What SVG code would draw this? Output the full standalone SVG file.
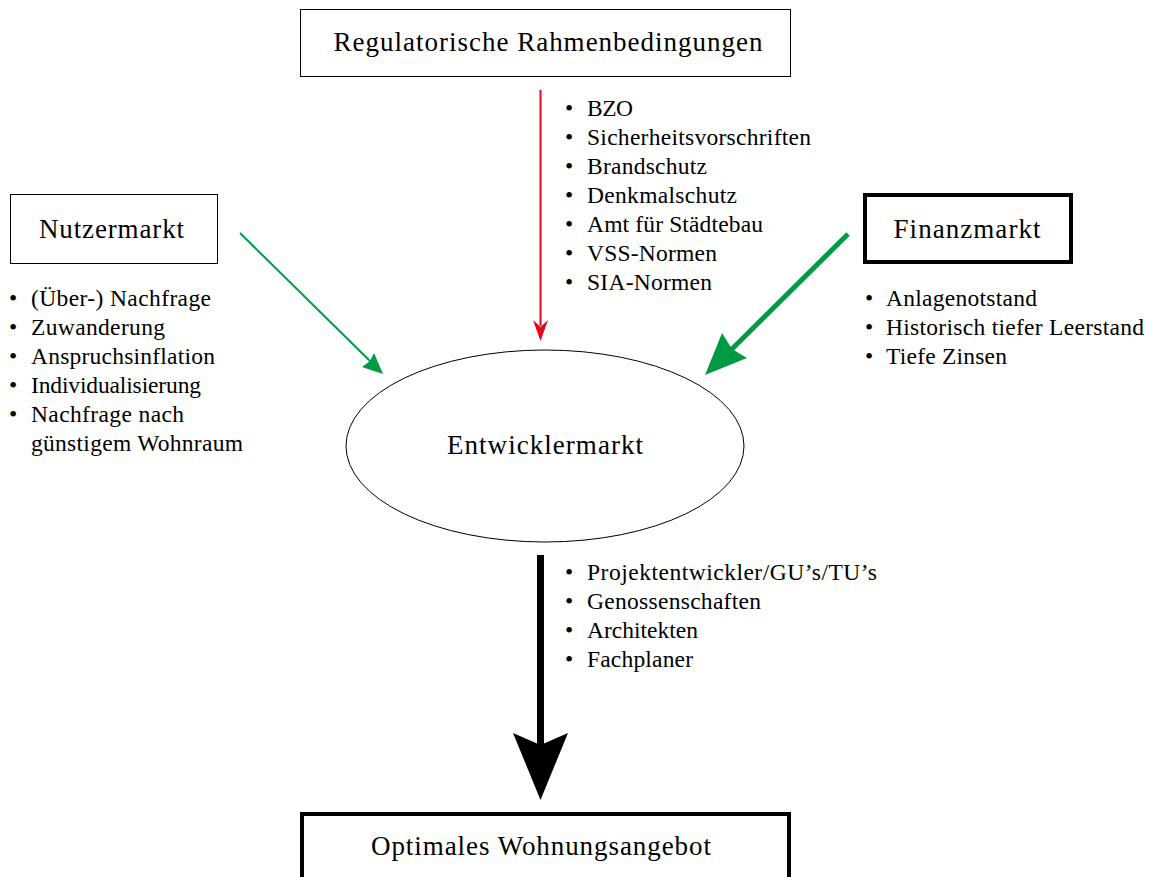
<svg xmlns="http://www.w3.org/2000/svg" width="1151" height="877" viewBox="0 0 1151 877">
  <style>
    text { font-family: "Liberation Serif", "Times New Roman", serif; fill: #000; }
    .title { font-size: 27px; text-anchor: middle; }
    .item { font-size: 23.5px; }
    .box { fill: #fff; stroke: #000; stroke-width: 1; }
    .box-bold { fill: #fff; stroke: #000; stroke-width: 4; }
  </style>

  <!-- connectors -->
  <g id="connectors">
    <!-- regulation -> developers (red) -->
    <line x1="540.5" y1="90" x2="540.5" y2="326" stroke="#e3061b" stroke-width="2"/>
    <polygon points="533,320 540.5,341 548,320 540.5,327" fill="#e3061b"/>
    <!-- user market -> developers (thin green) -->
    <line x1="240" y1="233" x2="372" y2="363" stroke="#009a44" stroke-width="2"/>
    <polygon points="383,374 362,367 370,361 374,353" fill="#009a44"/>
    <!-- finance market -> developers (bold green) -->
    <line x1="848" y1="234" x2="731" y2="350" stroke="#009a44" stroke-width="5"/>
    <polygon points="705,375 722,333 732,349 747,358" fill="#009a44"/>
    <!-- developers -> housing supply (black) -->
    <line x1="540.5" y1="555" x2="540.5" y2="745" stroke="#000" stroke-width="7"/>
    <polygon points="513,733 540.5,745 568,733 540.5,800" fill="#000"/>
  </g>

  <g id="node-regulatorisch">
    <rect class="box" x="300.5" y="9.5" width="490" height="67"/>
    <text class="title" x="548" y="51" textLength="429" lengthAdjust="spacing">Regulatorische Rahmenbedingungen</text>
  </g>

  <g id="node-nutzermarkt">
    <rect class="box" x="10.5" y="194.5" width="207" height="69"/>
    <text class="title" x="111.5" y="238" textLength="145" lengthAdjust="spacing">Nutzermarkt</text>
  </g>

  <g id="node-finanzmarkt">
    <rect class="box-bold" x="865" y="195" width="206" height="67"/>
    <text class="title" x="967" y="238" textLength="147" lengthAdjust="spacing">Finanzmarkt</text>
  </g>

  <g id="node-entwicklermarkt">
    <ellipse cx="545" cy="446" rx="199" ry="96" fill="#fff" stroke="#000" stroke-width="1"/>
    <text class="title" x="545" y="454" textLength="196" lengthAdjust="spacing">Entwicklermarkt</text>
  </g>

  <g id="node-wohnungsangebot">
    <rect class="box-bold" x="302" y="814" width="487" height="80"/>
    <text class="title" x="541" y="855" textLength="340" lengthAdjust="spacing">Optimales Wohnungsangebot</text>
  </g>

  <!-- factor lists -->
  <g id="list-nutzer" class="item">
    <text x="9" y="306">•</text><text x="31" y="306" textLength="180" lengthAdjust="spacing">(Über-) Nachfrage</text>
    <text x="9" y="335">•</text><text x="31" y="335" textLength="134" lengthAdjust="spacing">Zuwanderung</text>
    <text x="9" y="364">•</text><text x="31" y="364" textLength="184" lengthAdjust="spacing">Anspruchsinflation</text>
    <text x="9" y="393">•</text><text x="31" y="393" textLength="170" lengthAdjust="spacing">Individualisierung</text>
    <text x="9" y="422">•</text><text x="31" y="422" textLength="153" lengthAdjust="spacing">Nachfrage nach</text>
    <text x="31" y="451" textLength="212" lengthAdjust="spacing">günstigem Wohnraum</text>
  </g>

  <g id="list-regulatorisch" class="item">
    <text x="565" y="116">•</text><text x="587" y="116" textLength="46" lengthAdjust="spacing">BZO</text>
    <text x="565" y="145">•</text><text x="587" y="145" textLength="224" lengthAdjust="spacing">Sicherheitsvorschriften</text>
    <text x="565" y="174">•</text><text x="587" y="174" textLength="120" lengthAdjust="spacing">Brandschutz</text>
    <text x="565" y="203">•</text><text x="587" y="203" textLength="150" lengthAdjust="spacing">Denkmalschutz</text>
    <text x="565" y="232">•</text><text x="587" y="232" textLength="176" lengthAdjust="spacing">Amt für Städtebau</text>
    <text x="565" y="261">•</text><text x="587" y="261" textLength="130" lengthAdjust="spacing">VSS-Normen</text>
    <text x="565" y="290">•</text><text x="587" y="290" textLength="125" lengthAdjust="spacing">SIA-Normen</text>
  </g>

  <g id="list-finanz" class="item">
    <text x="865" y="306">•</text><text x="886" y="306" textLength="151" lengthAdjust="spacing">Anlagenotstand</text>
    <text x="865" y="335">•</text><text x="886" y="335" textLength="258" lengthAdjust="spacing">Historisch tiefer Leerstand</text>
    <text x="865" y="364">•</text><text x="886" y="364" textLength="121" lengthAdjust="spacing">Tiefe Zinsen</text>
  </g>

  <g id="list-entwickler" class="item">
    <text x="565" y="580">•</text><text x="587" y="580" textLength="290" lengthAdjust="spacing">Projektentwickler/GU’s/TU’s</text>
    <text x="565" y="609">•</text><text x="587" y="609" textLength="174" lengthAdjust="spacing">Genossenschaften</text>
    <text x="565" y="638">•</text><text x="587" y="638" textLength="111" lengthAdjust="spacing">Architekten</text>
    <text x="565" y="667">•</text><text x="587" y="667" textLength="106" lengthAdjust="spacing">Fachplaner</text>
  </g>
</svg>
